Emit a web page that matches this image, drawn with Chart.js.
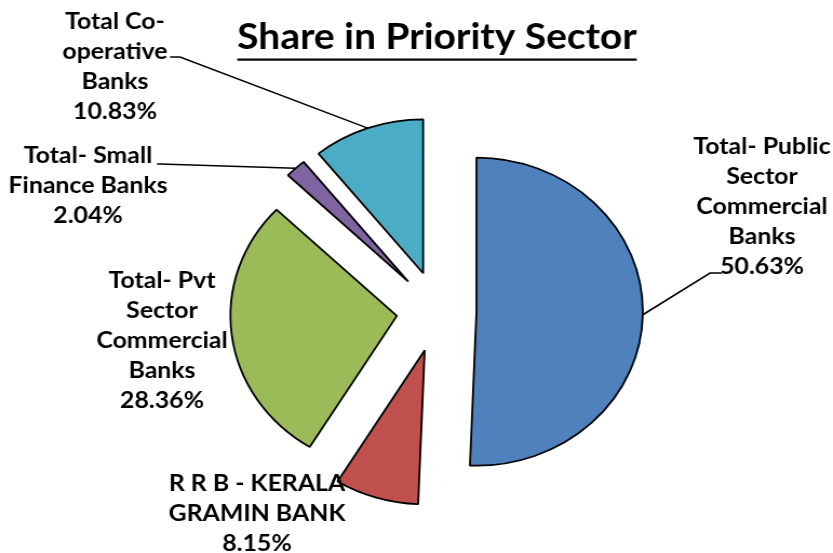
<!DOCTYPE html>
<html lang="en">
<head>
<meta charset="UTF-8">
<title>Share in Priority Sector</title>
<script src="https://cdn.jsdelivr.net/npm/chart.js"></script>
<style>
  body { margin: 0; background: #fff; overflow: hidden; }
  /* the reference pie is a little wider than it is tall, so the whole canvas is stretched */
  .wrap { width: 771px; height: 553px; transform: scaleX(1.0804); transform-origin: 0 0; }
</style>
</head>
<body>
<div class="wrap"><canvas id="pie" width="771" height="553"></canvas></div>
<script>
const categories = [
  ['Total- Public', 'Sector', 'Commercial', 'Banks'],
  ['R R B - KERALA', 'GRAMIN BANK'],
  ['Total- Pvt', 'Sector', 'Commercial', 'Banks'],
  ['Total- Small', 'Finance Banks'],
  ['Total Co-', 'operative', 'Banks']
];
const shares = [50.63, 8.15, 28.36, 2.04, 10.83];
const sliceColors = ['#4F81BD', '#C0504D', '#9BBB59', '#8064A2', '#4BACC6'];

const SX = 1.0804;           // horizontal stretch of the page
const R = 154;               // pie radius
const explode = [36, 41, 38, 40, 40];  // slice displacement, px

// label blocks, in page pixels: centre x, first line y, leader knee and end
const labelPos = [
  { x: 762, y: 147, knee: [710, 273], end: [722, 273] },
  { x: 257, y: 484, knee: null },
  { x: 162, y: 281, knee: null },
  { x: 88, y: 156, knee: [160, 164], end: [157, 164] },
  { x: 115, y: 22, knee: [180, 57], end: [170, 57] }
];
const lineGap = 30;

// pull each slice out along its middle angle (the built-in offset also
// grows and narrows small slices, which the reference does not do)
const explodeSlices = {
  id: 'explodeSlices',
  afterUpdate(chart) {
    chart.getDatasetMeta(0).data.forEach((arc, i) => {
      const mid = (arc.startAngle + arc.endAngle) / 2;
      arc.x += Math.cos(mid) * explode[i];
      arc.y += Math.sin(mid) * explode[i];
    });
  }
};

const labelsPlugin = {
  id: 'labels',
  afterDatasetsDraw(chart) {
    const ctx = chart.ctx;
    const arcs = chart.getDatasetMeta(0).data;
    ctx.save();

    // title
    ctx.fillStyle = '#000';
    ctx.font = 'bold 36px Lato';
    ctx.textAlign = 'center';
    ctx.textBaseline = 'alphabetic';
    const tx = 437 / SX;
    ctx.fillText('Share in Priority Sector', tx, 49);
    const tw = ctx.measureText('Share in Priority Sector').width;
    ctx.fillRect(tx - tw / 2, 58.5, tw, 2.2);

    // leaders
    ctx.strokeStyle = '#000';
    ctx.lineWidth = 1.6;
    arcs.forEach((arc, i) => {
      const p = labelPos[i];
      if (!p.knee) return;
      const { x, y, startAngle, endAngle, outerRadius } = arc.getProps(['x', 'y', 'startAngle', 'endAngle', 'outerRadius'], true);
      const mid = (startAngle + endAngle) / 2;
      ctx.beginPath();
      ctx.moveTo(x + Math.cos(mid) * outerRadius, y + Math.sin(mid) * outerRadius);
      ctx.lineTo(p.knee[0] / SX, p.knee[1]);
      ctx.lineTo(p.end[0] / SX, p.end[1]);
      ctx.stroke();
    });

    // label text
    ctx.font = 'bold 23px Lato';
    ctx.textBaseline = 'middle';
    categories.forEach((lines, i) => {
      const p = labelPos[i];
      const all = lines.concat([shares[i].toFixed(2) + '%']);
      all.forEach((t, k) => ctx.fillText(t, p.x / SX, p.y + k * lineGap));
    });
    ctx.restore();
  }
};

new Chart(document.getElementById('pie'), {
  type: 'pie',
  data: {
    labels: categories.map(l => l.join(' ')),
    datasets: [{
      data: shares,
      backgroundColor: sliceColors,
      borderColor: '#000',
      borderWidth: 1.8,
      radius: R,
      clip: false
    }]
  },
  options: {
    responsive: false,
    animation: false,
    events: [],
    layout: { padding: { left: 205, right: 166, top: 111, bottom: 42 } },
    plugins: {
      legend: { display: false },
      tooltip: { enabled: false },
      title: { display: false }
    }
  },
  plugins: [explodeSlices, labelsPlugin]
});
</script>
</body>
</html>
